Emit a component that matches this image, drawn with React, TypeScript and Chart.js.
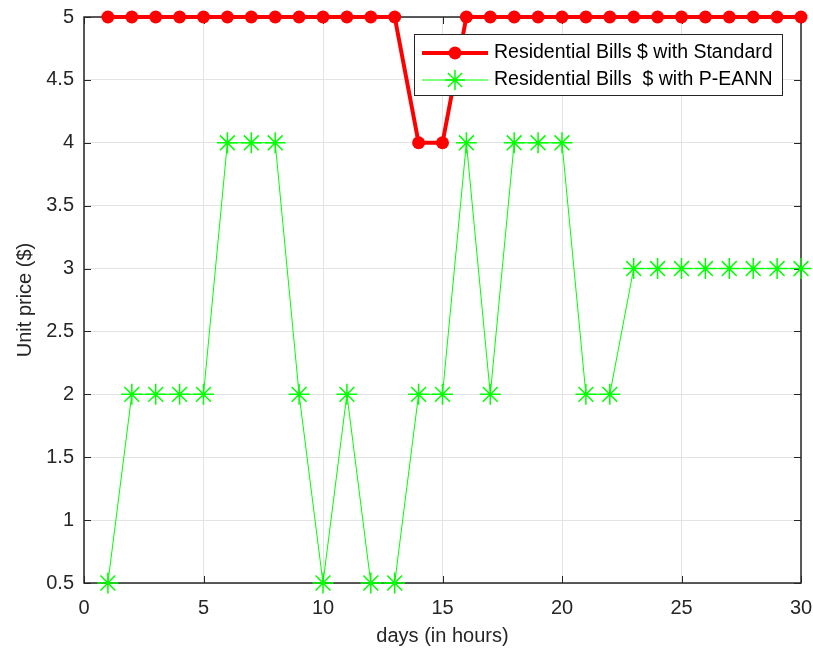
import React, { useEffect, useRef } from "react";
import { Chart, registerables } from "chart.js";
Chart.register(...registerables);

const hours = [1,2,3,4,5,6,7,8,9,10,11,12,13,14,15,16,17,18,19,20,21,22,23,24,25,26,27,28,29,30];
const standardBills = [5,5,5,5,5,5,5,5,5,5,5,5,5,4,4,5,5,5,5,5,5,5,5,5,5,5,5,5,5,5];
const peannBills = [0.5,2,2,2,2,4,4,4,2,0.5,2,0.5,0.5,2,2,4,2,4,4,4,2,2,3,3,3,3,3,3,3,3];
const xTicks = [0,5,10,15,20,25,30];
const yTicks = [0.5,1,1.5,2,2.5,3,3.5,4,4.5,5];
const seriesNames = ["Residential Bills $ with Standard", "Residential Bills  $ with P-EANN"];
const FONT = "'Liberation Sans', Arial, Helvetica, sans-serif";

const boxPlugin = {
  id: "boxPlugin",
  beforeDatasetsDraw(chart: any) {
    const { ctx, chartArea: a, scales } = chart;
    ctx.save();
    ctx.strokeStyle = "#262626";
    ctx.lineWidth = 1.5;
    ctx.strokeRect(a.left, a.top, a.right - a.left, a.bottom - a.top);
    const tl = 7;
    ctx.lineWidth = 1;
    ctx.beginPath();
    xTicks.forEach((t) => {
      const x = Math.round(scales.x.getPixelForValue(t)) + 0.5;
      ctx.moveTo(x, a.bottom); ctx.lineTo(x, a.bottom - tl);
      ctx.moveTo(x, a.top); ctx.lineTo(x, a.top + tl);
    });
    yTicks.forEach((t) => {
      const y = Math.round(scales.y.getPixelForValue(t)) + 0.5;
      ctx.moveTo(a.left, y); ctx.lineTo(a.left + tl, y);
      ctx.moveTo(a.right, y); ctx.lineTo(a.right - tl, y);
    });
    ctx.stroke();
    ctx.restore();
  },
  afterDatasetsDraw(chart: any) {
    const { ctx } = chart;
    const bx = 414, by = 34, bw = 368, bh = 61;
    ctx.save();
    ctx.fillStyle = "#ffffff";
    ctx.fillRect(bx, by, bw, bh);
    ctx.strokeStyle = "#262626";
    ctx.lineWidth = 1;
    ctx.strokeRect(bx + 0.5, by + 0.5, bw, bh);
    const rows = [by + 19, by + 46];
    ctx.strokeStyle = "#ff0000";
    ctx.lineWidth = 4;
    ctx.beginPath(); ctx.moveTo(422, rows[0]); ctx.lineTo(488, rows[0]); ctx.stroke();
    ctx.fillStyle = "#ff0000";
    ctx.beginPath(); ctx.arc(455, rows[0], 6.5, 0, Math.PI * 2); ctx.fill();
    ctx.strokeStyle = "#00ff00";
    ctx.lineWidth = 1;
    ctx.beginPath(); ctx.moveTo(422, rows[1]); ctx.lineTo(488, rows[1]); ctx.stroke();
    ctx.lineWidth = 1.5;
    const r = 10, cx = 455, cy = rows[1];
    ctx.beginPath();
    ctx.moveTo(cx - r, cy); ctx.lineTo(cx + r, cy);
    ctx.moveTo(cx, cy - r); ctx.lineTo(cx, cy + r);
    const d = r * Math.SQRT1_2;
    ctx.moveTo(cx - d, cy - d); ctx.lineTo(cx + d, cy + d);
    ctx.moveTo(cx - d, cy + d); ctx.lineTo(cx + d, cy - d);
    ctx.stroke();
    ctx.fillStyle = "#000000";
    ctx.font = `19.5px ${FONT}`;
    ctx.textBaseline = "middle";
    ctx.fillText(seriesNames[0], 494, rows[0]);
    ctx.fillText(seriesNames[1], 494, rows[1]);
    ctx.restore();
  },
};

export default function App() {
  const ref = useRef<HTMLCanvasElement>(null);
  useEffect(() => {
    const chart = new Chart(ref.current!, {
      type: "line",
      data: {
        datasets: [
          {
            label: seriesNames[0],
            data: hours.map((h, i) => ({ x: h, y: standardBills[i] })),
            borderColor: "#ff0000",
            backgroundColor: "#ff0000",
            borderWidth: 4,
            pointRadius: 6.5,
            pointStyle: "circle",
            pointBorderWidth: 0,
            tension: 0,
            clip: false as any,
            order: 1,
          },
          {
            label: seriesNames[1],
            data: hours.map((h, i) => ({ x: h, y: peannBills[i] })),
            borderColor: "#00ff00",
            backgroundColor: "#00ff00",
            borderWidth: 1,
            pointRadius: 10.5,
            pointStyle: "star",
            pointBorderWidth: 1.5,
            tension: 0,
            clip: false as any,
            order: 0,
          },
        ],
      },
      options: {
        animation: false,
        responsive: false,
        layout: { padding: { top: 17, right: 11, left: 0, bottom: 0 } },
        plugins: { legend: { display: false }, tooltip: { enabled: false } },
        scales: {
          x: {
            type: "linear",
            min: 0,
            max: 30,
            afterBuildTicks: (s: any) => { s.ticks = xTicks.map((v) => ({ value: v })); },
            afterFit: (s: any) => { s.height = 72; s.paddingLeft = 0; s.paddingRight = 0; },
            grid: { color: "#e3e3e3", drawTicks: false, lineWidth: 1 },
            border: { display: false },
            ticks: { color: "#262626", font: { size: 20, family: FONT }, padding: 13, maxRotation: 0, callback: (v: any) => String(v) },
            title: { display: true, text: "days (in hours)", color: "#262626", font: { size: 20, family: FONT }, padding: { top: 0, bottom: 7 } },
          },
          y: {
            type: "linear",
            min: 0.5,
            max: 5,
            afterBuildTicks: (s: any) => { s.ticks = yTicks.map((v) => ({ value: v })); },
            afterFit: (s: any) => { s.width = 84; s.paddingTop = 0; s.paddingBottom = 0; },
            grid: { color: "#e3e3e3", drawTicks: false, lineWidth: 1 },
            border: { display: false },
            ticks: { color: "#262626", font: { size: 20, family: FONT }, padding: 10, callback: (v: any) => String(v) },
            title: { display: true, text: "Unit price ($)", color: "#262626", font: { size: 20, family: FONT }, padding: { top: 13, bottom: 0 } },
          },
        },
      },
      plugins: [boxPlugin],
    });
    return () => chart.destroy();
  }, []);
  return (
    <div style={{ position: "fixed", left: 0, top: 0, width: 813, height: 655, background: "#fff" }}>
      <canvas ref={ref} width={813} height={655} style={{ width: 813, height: 655 }} />
    </div>
  );
}
